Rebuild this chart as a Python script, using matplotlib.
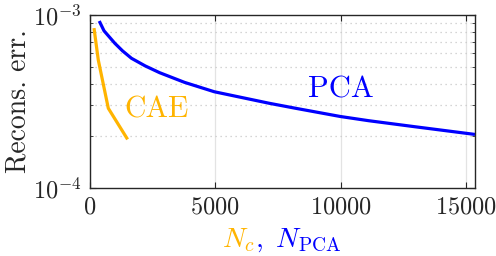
import numpy as np
import matplotlib
matplotlib.use('Agg')
import matplotlib.pyplot as plt
from matplotlib.ticker import LogLocator, NullFormatter, FixedLocator

# данные
n_cae = [160, 330, 730, 1500]
err_cae = [8.4e-4, 5.5e-4, 2.89e-4, 1.91e-4]

n_pca = [369, 560, 992, 1300, 1655, 2200, 2778, 3770, 4960, 7143, 8200, 9988,
         11111, 12964, 15360]
err_pca = [9.23e-4, 8.1e-4, 6.86e-4, 6.2e-4, 5.62e-4, 5.08e-4, 4.64e-4, 4.08e-4,
           3.60e-4, 3.09e-4, 2.89e-4, 2.59e-4, 2.45e-4, 2.26e-4, 2.04e-4]

x_ticks = [0, 5000, 10000, 15000]

plt.rcParams['font.family'] = 'serif'
plt.rcParams['font.serif'] = ['cmr10']
plt.rcParams['mathtext.fontset'] = 'cm'
plt.rcParams['axes.unicode_minus'] = False
plt.rcParams['axes.formatter.use_mathtext'] = True

c_cae = '#FFB400'
c_pca = '#0000FF'
c_ax = '#262626'

fig = plt.figure(figsize=(4.96, 2.56), dpi=100)
ax = fig.add_axes([90 / 496, 68 / 256, 385 / 496, 173 / 256])

ax.plot(n_pca, err_pca, color=c_pca, lw=2.3, solid_capstyle='butt')
ax.plot(n_cae, err_cae, color=c_cae, lw=2.3, solid_capstyle='butt')

ax.set_yscale('log')
ax.set_ylim(1e-4, 1e-3)
ax.set_xlim(0, 15360)
ax.xaxis.set_major_locator(FixedLocator(x_ticks))
ax.yaxis.set_major_locator(LogLocator(base=10, numticks=5))
ax.yaxis.set_minor_locator(LogLocator(base=10, subs=np.arange(2, 10), numticks=12))
ax.yaxis.set_minor_formatter(NullFormatter())

# сетка как в MATLAB
ax.grid(True, which='major', axis='x', color='#e3e3e3', lw=0.9, ls='-')
ax.grid(True, which='minor', axis='y', color='#c8c8c8', lw=0.9, ls=(0, (1, 3)))
ax.set_axisbelow(True)

for s in ax.spines.values():
    s.set_color(c_ax)
    s.set_linewidth(1.0)
ax.tick_params(which='both', direction='in', top=True, right=True,
               colors=c_ax, labelsize=17.5, pad=6)
ax.tick_params(which='major', length=4)
ax.tick_params(which='minor', length=2.5)

ax.set_ylabel('Recons. err.', fontsize=20, color=c_ax, labelpad=1)

ax.text(0.173, 0.45, 'CAE', color=c_cae, fontsize=21.5, transform=ax.transAxes,
        ha='center', va='center')
ax.text(0.652, 0.565, 'PCA', color=c_pca, fontsize=22, transform=ax.transAxes,
        ha='center', va='center')

# подпись оси x из двух цветов
fig.text(0.513, 0.062, r'$N_c$', color=c_cae, fontsize=20, ha='right', va='center')
fig.text(0.515, 0.062, r'$,\ N_{\rm PCA}$', color=c_pca, fontsize=20, ha='left', va='center')

fig.savefig('out.png', dpi=100)
